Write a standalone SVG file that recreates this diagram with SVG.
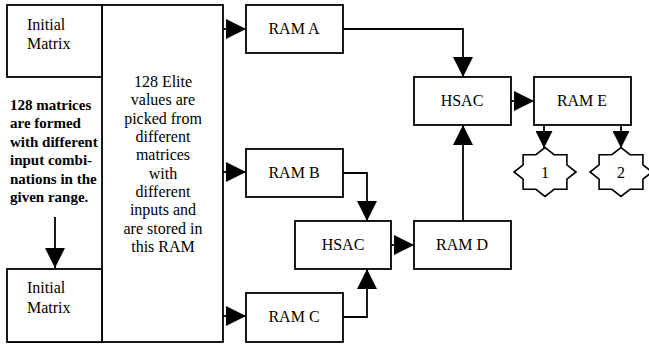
<svg xmlns="http://www.w3.org/2000/svg" width="649" height="346" viewBox="0 0 649 346">
<style>
.box{fill:#fff;stroke:#000;stroke-width:1.8}
.t{font-family:"Liberation Serif","Times New Roman",serif;font-size:16px;fill:#000}
.c{text-anchor:middle}
.b{font-weight:bold;font-size:15px}
.ln{fill:none;stroke:#000;stroke-width:1.8}
</style>
<defs>
<marker id="ah" markerUnits="userSpaceOnUse" markerWidth="20" markerHeight="20" refX="20" refY="10" orient="auto" viewBox="0 0 20 20">
<path d="M0,0 L20,10 L0,20 z" fill="#000"/>
</marker>
<marker id="ahs" markerUnits="userSpaceOnUse" markerWidth="17" markerHeight="17" refX="17" refY="8.5" orient="auto" viewBox="0 0 17 17">
<path d="M0,0 L17,8.5 L0,17 z" fill="#000"/>
</marker>
<polygon id="star" points="31,0 21.9,7.2 21.9,17.3 9.1,17.3 0,24.5 -9.1,17.3 -21.9,17.3 -21.9,7.2 -31,0 -21.9,-7.2 -21.9,-17.3 -9.1,-17.3 0,-24.5 9.1,-17.3 21.9,-17.3 21.9,-7.2" fill="#fff" stroke="#000" stroke-width="1.6"/>
</defs>
<rect width="649" height="346" fill="#fff"/>

<g id="elite">
<rect class="box" x="102" y="5" width="121" height="337"/>
<text class="t c" x="163" y="87">128 Elite</text>
<text class="t c" x="163" y="105.3">values are</text>
<text class="t c" x="163" y="123.7">picked from</text>
<text class="t c" x="163" y="142">different</text>
<text class="t c" x="163" y="160.3">matrices</text>
<text class="t c" x="163" y="178.7">with</text>
<text class="t c" x="163" y="197">different</text>
<text class="t c" x="163" y="215.3">inputs and</text>
<text class="t c" x="163" y="233.7">are stored in</text>
<text class="t c" x="163" y="252">this RAM</text>
</g>

<g id="init1">
<rect class="box" x="7" y="5" width="95" height="72"/>
<text class="t" x="27" y="30">Initial</text>
<text class="t" x="27" y="49">Matrix</text>
</g>

<g id="note">
<line class="ln" x1="7" y1="342" x2="102" y2="342"/>
<text class="t b" x="10" y="110">128 matrices</text>
<text class="t b" x="10" y="128.4">are formed</text>
<text class="t b" x="10" y="146.8">with different</text>
<text class="t b" x="10" y="165.2">input combi-</text>
<text class="t b" x="10" y="183.6">nations in the</text>
<text class="t b" x="10" y="202">given range.</text>
</g>

<g id="init2">
<rect class="box" x="7" y="269" width="95" height="73"/>
<text class="t" x="27" y="293">Initial</text>
<text class="t" x="27" y="313">Matrix</text>
</g>

<g id="ramA">
<rect class="box" x="246" y="5" width="97" height="48"/>
<text class="t c" x="294" y="34">RAM A</text>
</g>
<g id="ramB">
<rect class="box" x="246" y="149" width="97" height="48"/>
<text class="t c" x="294" y="178">RAM B</text>
</g>
<g id="ramC">
<rect class="box" x="246" y="293" width="97" height="49"/>
<text class="t c" x="294" y="322">RAM C</text>
</g>
<g id="hsac2">
<rect class="box" x="295" y="221" width="96" height="48"/>
<text class="t c" x="343" y="250">HSAC</text>
</g>
<g id="ramD">
<rect class="box" x="414" y="221" width="97" height="48"/>
<text class="t c" x="462" y="250">RAM D</text>
</g>
<g id="hsac1">
<rect class="box" x="414" y="77" width="97" height="48"/>
<text class="t c" x="462" y="106">HSAC</text>
</g>
<g id="ramE">
<rect class="box" x="534" y="77" width="97" height="48"/>
<text class="t c" x="582" y="106">RAM E</text>
</g>
<g id="out1">
<use href="#star" x="545" y="172"/>
<text class="t c" x="545" y="178">1</text>
</g>
<g id="out2">
<use href="#star" x="621" y="172"/>
<text class="t c" x="621" y="178">2</text>
</g>

<g id="connectors">
<path class="ln" d="M55,217 L55,268" marker-end="url(#ah)"/>
<path class="ln" d="M223,29 L246,29" marker-end="url(#ah)"/>
<path class="ln" d="M223,172 L246,172" marker-end="url(#ah)"/>
<path class="ln" d="M223,316 L246,316" marker-end="url(#ah)"/>
<path class="ln" d="M343,29 L463,29 L463,77" marker-end="url(#ah)"/>
<path class="ln" d="M343,173 L367,173 L367,221" marker-end="url(#ah)"/>
<path class="ln" d="M343,317 L367,317 L367,269" marker-end="url(#ah)"/>
<path class="ln" d="M391,245 L414,245" marker-end="url(#ah)"/>
<path class="ln" d="M463,221 L463,125" marker-end="url(#ah)"/>
<path class="ln" d="M511,101 L534,101" marker-end="url(#ah)"/>
<path class="ln" d="M544,125 L544,148" marker-end="url(#ahs)"/>
<path class="ln" d="M621,125 L621,148" marker-end="url(#ahs)"/>
</g>
</svg>
